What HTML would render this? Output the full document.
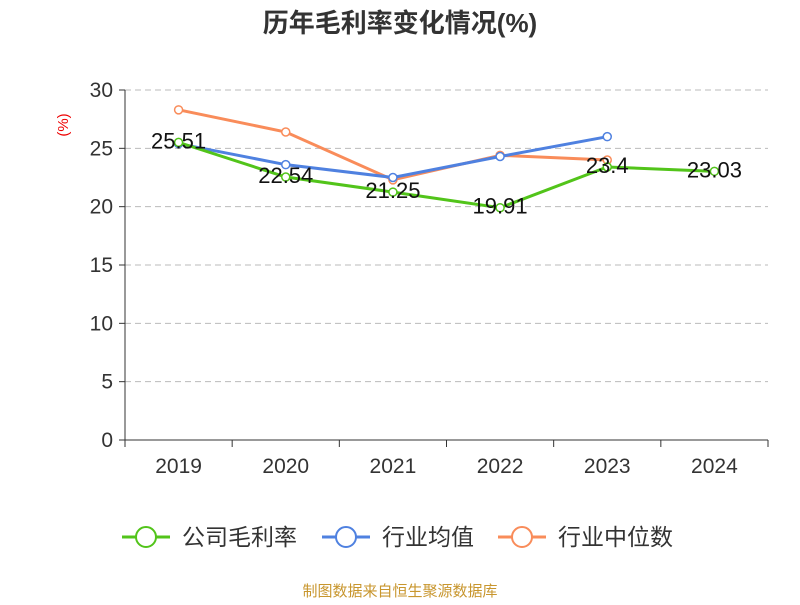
<!DOCTYPE html>
<html><head><meta charset="utf-8"><style>
body{margin:0;background:#fff;}
svg text{font-family:"Liberation Sans","Noto Sans CJK SC",sans-serif;}
</style></head><body>
<svg width="800" height="600" id="c">
<text x="400" y="32" text-anchor="middle" font-size="26" font-weight="bold" fill="#333">历年毛利率变化情况(%)</text>
<text transform="translate(68,125) rotate(-90)" text-anchor="middle" font-size="15" fill="#e00">(%)</text>
<g id="grid"></g><g id="axes"></g><g id="series"></g>
<g id="legend"></g>
<text x="400" y="596" text-anchor="middle" font-size="15" fill="#c8962e">制图数据来自恒生聚源数据库</text>
</svg>
<script>
const categories=["2019","2020","2021","2022","2023","2024"];
const yTicks=[0,5,10,15,20,25,30];
const companyMargin=[25.51,22.54,21.25,19.91,23.4,23.03];
const industryAvg=[25.4,23.6,22.5,24.3,26.0,null];
const industryMedian=[28.3,26.4,22.3,24.4,24.0,null];
const seriesNames=["公司毛利率","行业均值","行业中位数"];
const NS="http://www.w3.org/2000/svg";
const L=125,R=768,T=90,B=440,band=(R-L)/categories.length;
const x=i=>L+band*(i+0.5);
const y=v=>B-(v-0)/(30-0)*(B-T);
function mk(tag,attrs,parent){const e=document.createElementNS(NS,tag);for(const k in attrs)e.setAttribute(k,attrs[k]);parent.appendChild(e);return e;}
const grid=document.getElementById('grid'),axes=document.getElementById('axes'),ser=document.getElementById('series'),leg=document.getElementById('legend');
yTicks.forEach(t=>{
 if(t>0){const g=mk('line',{x1:L,x2:R,y1:y(t),y2:y(t),stroke:'#bbb','stroke-dasharray':'6,4'},grid);
 
 }
 const tk=mk('line',{x1:L-6,x2:L,y1:y(t),y2:y(t),stroke:'#333'},axes);
 
 
 const tx=mk('text',{x:L-12,y:y(t)+7,'text-anchor':'end','font-size':21,fill:'#333'},axes);tx.textContent=t;
 
 
});
const ya=mk('line',{x1:L,x2:L,y1:T,y2:B,stroke:'#333'},axes);


const xa=mk('line',{x1:L,x2:R,y1:B,y2:B,stroke:'#333'},axes);


for(let i=0;i<=categories.length;i++){const t=mk('line',{x1:L+band*i,x2:L+band*i,y1:B,y2:B+7,stroke:'#333'},axes);
 
 }
categories.forEach((c,i)=>{const t=mk('text',{x:x(i),y:B+33,'text-anchor':'middle','font-size':21,fill:'#333'},axes);t.textContent=c;
 
 });
function drawSeries(data,color,name){
 let d='';data.forEach((v,i)=>{if(v==null)return;d+=(d?'L':'M')+x(i)+','+y(v);});
 const p=mk('path',{d:d,fill:'none',stroke:color,'stroke-width':3},ser);
 
 
 data.forEach((v,i)=>{if(v==null)return;
  const c=mk('circle',{cx:x(i),cy:y(v),r:4,fill:'#fff',stroke:color,'stroke-width':1.5},ser);
  
  });
}
drawSeries(industryMedian,'#f98c5a','industry-median');
drawSeries(industryAvg,'#4f81e0','industry-average');
drawSeries(companyMargin,'#52c41a','company-margin');
companyMargin.forEach((v,i)=>{const t=mk('text',{x:x(i),y:y(v)+6,'text-anchor':'middle','font-size':22,fill:'#111'},ser);t.textContent=v;
 
 });
const legItems=[[122,'#52c41a'],[322,'#4f81e0'],[498,'#f98c5a']];
legItems.forEach((it,k)=>{const g=mk('g',{},leg);
 
 
 mk('line',{x1:it[0],x2:it[0]+48,y1:537,y2:537,stroke:it[1],'stroke-width':3},g);
 mk('circle',{cx:it[0]+24,cy:537,r:10,fill:'#fff',stroke:it[1],'stroke-width':2},g);
 const t=mk('text',{x:it[0]+60,y:545,'font-size':23,fill:'#333'},g);t.textContent=seriesNames[k];});
</script>
</body></html>
